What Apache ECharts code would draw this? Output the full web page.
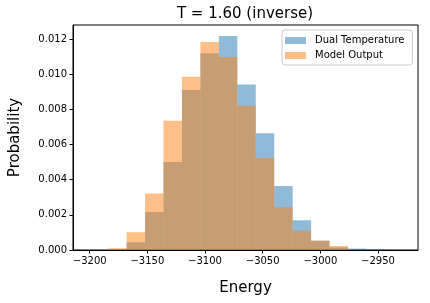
<!DOCTYPE html>
<html>
<head>
<meta charset="utf-8">
<script src="https://cdn.jsdelivr.net/npm/echarts@6/dist/echarts.min.js"></script>
<style>
html,body{margin:0;padding:0;background:#fff;}
#chart{width:430px;height:303px;}
</style>
</head>
<body>
<div id="chart"></div>
<script>
// Histogram bin edges (Energy)
const binEdges = [-3184,-3168,-3152,-3136,-3120,-3104,-3088,-3072,-3056,-3040,-3024,-3008,-2992,-2976,-2960,-2944];
// Probability density per bin
const dualTemperature = [0, 0.00044, 0.00216, 0.00500, 0.00910, 0.01119, 0.01217, 0.00942, 0.00664, 0.00364, 0.00169, 0.00053, 0.00015, 0.00008, 0.00003];
const modelOutput     = [0.00010, 0.00101, 0.00322, 0.00736, 0.00986, 0.01183, 0.01098, 0.00821, 0.00525, 0.00243, 0.00110, 0.00053, 0.00023, 0, 0];
const xTicks = [-3200, -3150, -3100, -3050, -3000, -2950];
const yTicks = [0, 0.002, 0.004, 0.006, 0.008, 0.010, 0.012];
const seriesNames = ['Dual Temperature', 'Model Output'];
const titleText = 'T = 1.60 (inverse)';

const FONT = 'DejaVu Sans';

function toBins(vals){
  return vals.map((v,i)=>[binEdges[i], binEdges[i+1], v]);
}
function renderItem(params, api){
  const x0 = api.value(0), x1 = api.value(1), v = api.value(2);
  const p0 = api.coord([x0, v]);
  const p1 = api.coord([x1, 0]);
  return {
    type: 'rect',
    shape: {x: p0[0], y: p0[1], width: p1[0]-p0[0], height: p1[1]-p0[1]},
    style: {fill: api.visual('color')}
  };
}

const chart = echarts.init(document.getElementById('chart'), null, {renderer:'canvas'});
chart.setOption({
  animation: false,
  backgroundColor: '#fff',
  title: {
    text: titleText,
    left: 245, top: 7, textAlign: 'center', padding: 0,
    textStyle: {fontFamily: FONT, fontSize: 15, fontWeight: 'normal', color: '#000'}
  },
  legend: {
    data: seriesNames,
    orient: 'vertical',
    left: 282, top: 30,
    padding: [5, 8, 4, 3],
    itemWidth: 21, itemHeight: 7, itemGap: 4,
    icon: 'rect',
    borderColor: '#cccccc', borderWidth: 1, borderRadius: 3,
    backgroundColor: 'rgba(255,255,255,0.8)',
    textStyle: {fontFamily: FONT, fontSize: 10, color: '#000', padding: [0,0,0,4], lineHeight: 11}
  },
  grid: {left: 70, right: 12, top: 25, bottom: 53, show: true, borderColor: '#000', borderWidth: 1, backgroundColor: 'transparent'},
  xAxis: {
    type: 'value', min: -3214.5, max: -2915.3,
    name: 'Energy', nameLocation: 'middle', nameGap: 31,
    nameTextStyle: {fontFamily: FONT, fontSize: 15, color: '#000'},
    axisLine: {show: true, lineStyle: {color: '#000', width: 1}},
    axisTick: {show: true, length: 3.5, lineStyle: {color: '#000'}, customValues: xTicks},
    axisLabel: {fontFamily: FONT, fontSize: 10, color: '#000', margin: 6, customValues: xTicks,
      formatter: v => String(v).replace('-', '\u2212')},
    splitLine: {show: false}
  },
  yAxis: {
    type: 'value', min: 0, max: 0.0128,
    name: 'Probability', nameLocation: 'middle', nameGap: 50,
    nameTextStyle: {fontFamily: FONT, fontSize: 15, color: '#000'},
    axisLine: {show: true, lineStyle: {color: '#000', width: 1}},
    axisTick: {show: true, length: 3.5, lineStyle: {color: '#000'}, customValues: yTicks},
    axisLabel: {fontFamily: FONT, fontSize: 10, color: '#000', margin: 6, customValues: yTicks,
      formatter: v => v.toFixed(3)},
    splitLine: {show: false}
  },
  series: [
    {name: seriesNames[0], type: 'custom', renderItem, data: toBins(dualTemperature),
     encode: {x: [0,1], y: 2}, itemStyle: {color: 'rgba(31,119,180,0.5)'}},
    {name: seriesNames[1], type: 'custom', renderItem, data: toBins(modelOutput),
     encode: {x: [0,1], y: 2}, itemStyle: {color: 'rgba(255,127,14,0.5)'}}
  ]
});
</script>
</body>
</html>
